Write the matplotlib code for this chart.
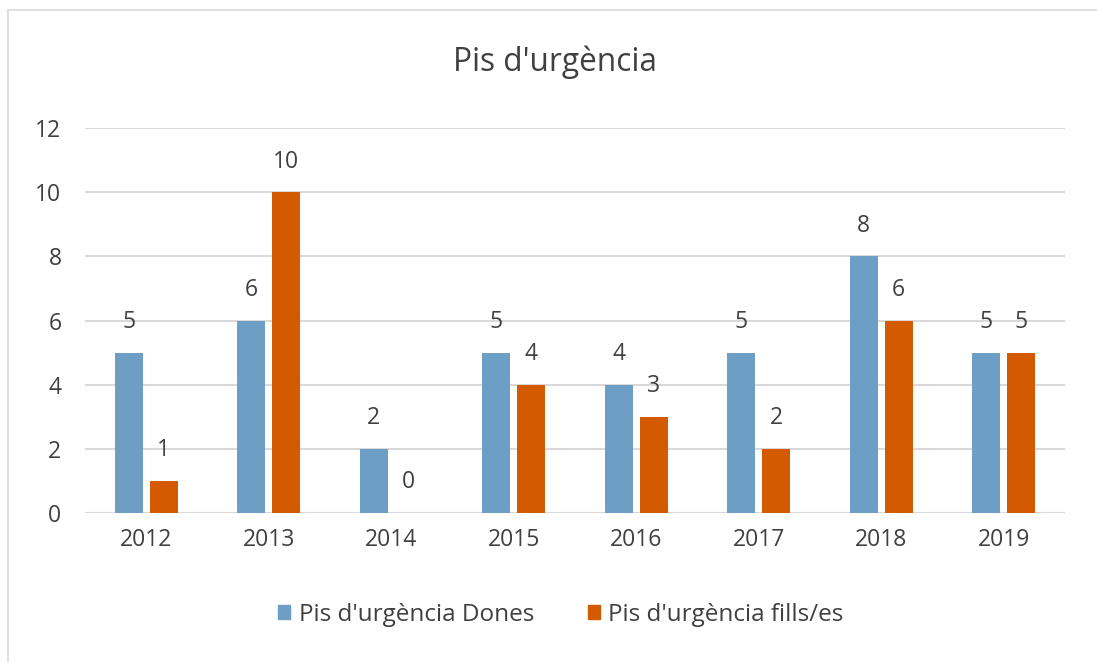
import matplotlib
matplotlib.use("Agg")
import matplotlib.pyplot as plt
import numpy as np
from matplotlib.patches import Rectangle
from matplotlib.lines import Line2D

years = ["2012", "2013", "2014", "2015", "2016", "2017", "2018", "2019"]
dones = [5, 6, 2, 5, 4, 5, 8, 5]
fills = [1, 10, 0, 4, 3, 2, 6, 5]
series_names = ["Pis d'urgència Dones", "Pis d'urgència fills/es"]
title = "Pis d'urgència"

blue = "#6E9EC4"
orange = "#D35A00"
txt = "#404040"

plt.rcParams['font.family'] = ['Open Sans', 'DejaVu Sans']

fig = plt.figure(figsize=(10.97, 6.62), dpi=100)
ax = fig.add_axes([85/1097, 1-513/662, 980/1097, 385/662])

x = np.arange(len(years))
w = 0.23
off = 0.143
b1 = ax.bar(x - off, dones, w, color=blue, label=series_names[0], zorder=3)
b2 = ax.bar(x + off, fills, w, color=orange, label=series_names[1], zorder=3)

for bars, vals in ((b1, dones), (b2, fills)):
    for r, v in zip(bars, vals):
        ax.annotate(str(v), (r.get_x() + r.get_width()/2, v), xytext=(0, 22),
                    textcoords="offset points", ha="center", va="center",
                    fontsize=16.5, color=txt)

ax.set_xlim(-0.5, len(years) - 0.5)
ax.set_ylim(0, 12)
ax.set_yticks(range(0, 13, 2))
ax.set_xticks(x)
ax.set_xticklabels(years)
ax.tick_params(axis='both', length=0, labelsize=16.5, colors=txt)
ax.tick_params(axis='y', pad=17)
ax.tick_params(axis='x', pad=11)
ax.grid(axis='y', color='#D9D9D9', linewidth=1.5, zorder=0)
for s in ax.spines.values():
    s.set_visible(False)
ax.axhline(0, color='#D9D9D9', linewidth=1.5, zorder=2)

fig.text(555/1097, 1-62/662, title, ha='center', va='center', fontsize=22.8, color=txt)

handles = [Rectangle((0, 0), 1, 1, color=blue), Rectangle((0, 0), 1, 1, color=orange)]
fig.legend(handles, series_names, loc='center', bbox_to_anchor=(561/1097, 1-615/662),
           ncol=2, frameon=False, fontsize=17.5, handlelength=0.5, handleheight=0.5,
           handletextpad=0.35, columnspacing=2.2, labelcolor=txt)

# outer border (left and top visible)
fig.add_artist(Line2D([8/1097, 8/1097], [0, 1-10/662], transform=fig.transFigure, color='#D9D9D9', lw=1.2))
fig.add_artist(Line2D([8/1097, 1], [1-10/662, 1-10/662], transform=fig.transFigure, color='#D9D9D9', lw=1.2))

fig.savefig("out.png", dpi=100)
